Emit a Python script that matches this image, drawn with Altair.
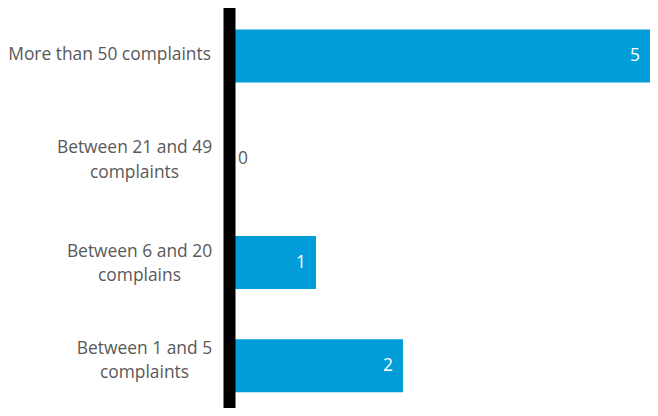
import altair as alt
import pandas as pd

categories = [
    "More than 50 complaints",
    "Between 21 and 49\ncomplaints",
    "Between 6 and 20\ncomplains",
    "Between 1 and 5\ncomplaints",
]
values = [5, 0, 1, 2]

df = pd.DataFrame({"category": categories, "value": values})

FONT = "Open Sans"
GRAY = "#595959"
BLUE = "#009DD9"

two_line = "indexof(datum.value, '\\n') >= 0"

y_enc = alt.Y(
    "category:N",
    sort=categories,
    scale=alt.Scale(paddingInner=0.487, paddingOuter=0.2435),
    axis=alt.Axis(
        title=None,
        ticks=False,
        tickSize=0,
        domain=True,
        domainColor="black",
        domainWidth=12,
        zindex=1,
        labelFont=FONT,
        labelFontSize=17.4,
        labelColor=GRAY,
        labelLineHeight=24.3,
        labelLimit=400,
        labelAlign={"condition": {"test": two_line, "value": "center"}, "value": "right"},
        labelPadding={
            "condition": [
                {"test": "indexof(datum.value, '21 and 49') >= 0", "value": 95},
                {"test": "indexof(datum.value, '6 and 20') >= 0", "value": 90},
                {"test": "indexof(datum.value, '1 and 5') >= 0", "value": 85},
            ],
            "value": 18.5,
        },
        labelOffset={
            "condition": [
                {"test": "indexof(datum.value, '1 and 5') >= 0", "value": -17},
                {"test": two_line, "value": -11},
            ],
            "value": -1,
        },
        labelExpr="split(datum.label, '\\n')",
        grid=False,
    ),
)
x_enc = alt.X(
    "value:Q",
    scale=alt.Scale(domain=[0, 4.84], nice=False, zero=True, clamp=True),
    axis=None,
)

base = alt.Chart(df).encode(y=y_enc, x=x_enc)

bars = base.mark_bar(color=BLUE)

labels_in = base.transform_filter("datum.value > 0").mark_text(
    align="right", baseline="middle", dx=-10, color="white", font=FONT, fontSize=17.4
).encode(text="value:Q")

labels_zero = base.transform_filter("datum.value == 0").mark_text(
    align="left", baseline="middle", dx=9, color=GRAY, font=FONT, fontSize=17.4
).encode(text="value:Q")

chart = (
    alt.layer(bars, labels_in, labels_zero)
    .properties(
        width=421,
        height=413,
        autosize=alt.AutoSizeParams(type="none"),
        padding={"left": 221, "top": -3.6, "right": 0, "bottom": -9.4},
        background="white",
    )
    .configure_view(stroke=None)
)

chart.save("out.html", embed_options={"renderer": "svg", "actions": False})
